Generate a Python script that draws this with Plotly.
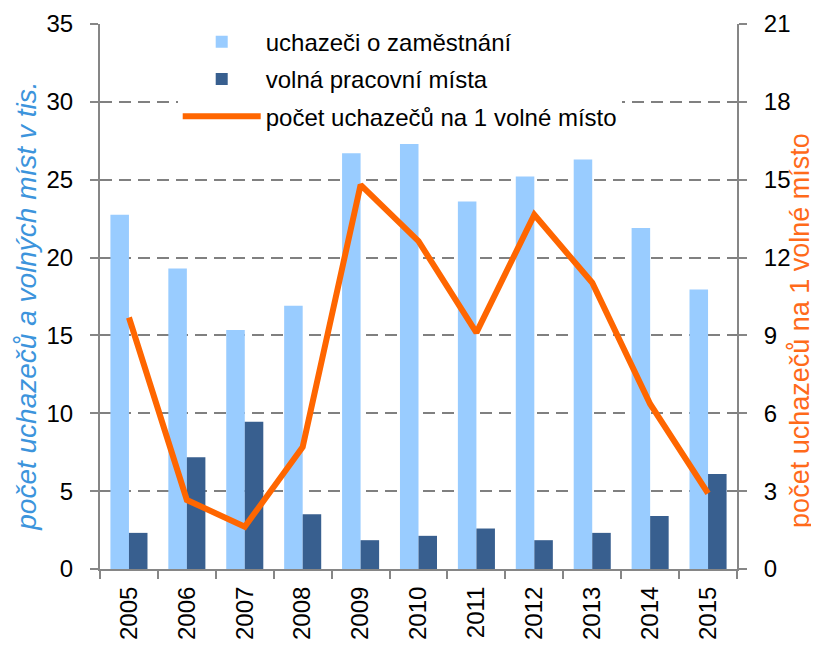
import plotly.graph_objects as go

years = [str(y) for y in range(2005, 2016)]
uchazeci = [22.75, 19.3, 15.35, 16.9, 26.7, 27.3, 23.6, 25.2, 26.3, 21.9, 17.95]
volna_mista = [2.32, 7.17, 9.45, 3.52, 1.85, 2.13, 2.6, 1.85, 2.32, 3.4, 6.1]
na_misto = [9.69, 2.66, 1.63, 4.7, 14.8, 12.63, 9.11, 13.65, 11.03, 6.36, 2.91]
left_ticks = list(range(0, 36, 5))
right_ticks = list(range(0, 22, 3))

names = ["uchazeči o zaměstnání", "volná pracovní místa", "počet uchazečů na 1 volné místo"]
left_title = "počet uchazečů a volných míst v tis."
right_title = "počet uchazečů na 1 volné místo"
FONT = "Liberation Sans, Arial, sans-serif"
AXC = "#868686"

fig = go.Figure()
fig.add_trace(go.Bar(x=years, y=uchazeci, name=names[0], marker=dict(color="#99CCFF", line=dict(width=0)),
                     legendgroup="a"))
fig.add_trace(go.Bar(x=years, y=volna_mista, name=names[1], marker=dict(color="#385F8F", line=dict(width=0)),
                     legendgroup="b"))
fig.add_trace(go.Scatter(x=years, y=na_misto, name=names[2], mode="lines", yaxis="y2",
                         line=dict(color="#FF6600", width=6), legendgroup="c"))

fig.update_layout(
    width=811, height=638,
    margin=dict(l=92, r=82, t=14, b=77),
    paper_bgcolor="white", plot_bgcolor="white",
    font=dict(family=FONT, size=24, color="black"),
    barmode="group", bargap=0.36, bargroupgap=0,
    showlegend=True,
    legend=dict(x=0.122, y=1.008, xanchor="left", yanchor="top", bgcolor="white",
                font=dict(size=24, color="black"), traceorder="grouped",
                tracegroupgap=3, itemwidth=78),
    xaxis=dict(type="category", tickson="boundaries", ticks="outside", ticklen=8,
               tickcolor=AXC, tickwidth=2, showline=True, linecolor=AXC, linewidth=2,
               tickangle=-90, tickfont=dict(size=24), automargin=False, showgrid=False,
               ticklabelstandoff=6),
    yaxis=dict(range=[0, 35], tickvals=left_ticks, ticks="outside", ticklen=8, tickcolor=AXC,
               tickwidth=2, showline=True, linecolor=AXC, linewidth=2, zeroline=False,
               showgrid=True, gridcolor="#808080", gridwidth=2, griddash="12px,7px",
               tickfont=dict(size=24), automargin=False, ticklabelstandoff=12),
    yaxis2=dict(range=[0, 21], tickvals=right_ticks, overlaying="y", side="right",
                ticks="outside", ticklen=8, tickcolor=AXC, tickwidth=2, showline=True,
                linecolor=AXC, linewidth=2, zeroline=False, showgrid=False,
                tickfont=dict(size=24), automargin=False, ticklabelstandoff=12),
    annotations=[
        dict(text="<i>" + left_title + "</i>", xref="paper", yref="paper", x=-0.1146, y=0.483,
             xanchor="center", yanchor="middle", textangle=-90, showarrow=False,
             font=dict(size=28, color="#3C94DC")),
        dict(text=right_title, xref="paper", yref="paper", x=1.0990, y=0.437,
             xanchor="center", yanchor="middle", textangle=-90, showarrow=False,
             font=dict(size=27, color="#FF6A1A")),
    ],
)

fig.write_html("out.html")
